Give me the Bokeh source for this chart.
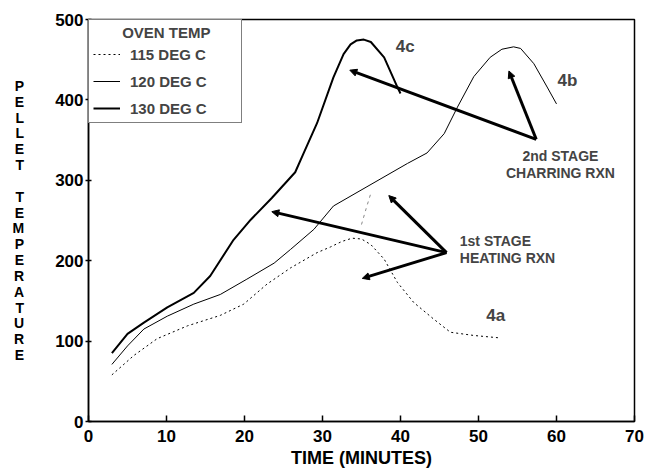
from bokeh.plotting import figure
from bokeh.models import Range1d, Legend, LegendItem, Label, Arrow, NormalHead, FixedTicker
from bokeh.embed import file_html
from bokeh.resources import INLINE

# ---- data ----
t115 = [3, 5.8, 8.8, 12.7, 16.9, 19.9, 22.9, 25.9, 29.3, 31, 32.5, 33.8, 35.0, 36.2, 37.9, 39.6, 41.7, 44.3, 46.4, 49.4, 52.7]
T115 = [58, 82, 103, 119, 132, 146, 171, 191, 210, 217, 224, 228, 227, 220, 202, 173, 148, 127, 111, 107, 104]

t115_frag = [35.0, 35.6, 36.2]
T115_frag = [245, 265, 284]

t120 = [3, 5, 7.1, 10.1, 13.5, 16.9, 20.3, 23.8, 25.9, 28.9, 31.4, 35.7, 40.9, 43.4, 45.6, 47.3, 49.4, 51.5, 53.0, 54.5, 55.4, 57.1, 58.8, 60]
T120 = [71, 94, 115, 131, 146, 158, 177, 197, 214, 239, 268, 292, 321, 334, 358, 391, 429, 453, 463, 466, 464, 445, 416, 395]

t130 = [3, 5, 7.1, 10.1, 13.5, 15.6, 18.6, 20.8, 23.5, 26.5, 27.5, 29.3, 31.4, 32.7, 33.6, 34.4, 35.3, 36.2, 37.9, 39.6, 40]
T130 = [85, 109, 123, 142, 160, 181, 226, 251, 278, 310, 332, 371, 428, 457, 469, 474, 475, 472, 453, 416, 408]

x_ticks = [0, 10, 20, 30, 40, 50, 60, 70]
y_ticks = [0, 100, 200, 300, 400, 500]

y_title_words = ["PELLET", "TEMPERATURE"]

# arrows: (tail x, tail y, head x, head y)
arrow_x0 = [57.4, 57.4, 45.9, 45.9, 45.9]
arrow_y0 = [351, 351, 210, 210, 210]
arrow_x1 = [33.5, 53.9, 23.5, 38.5, 35.1]
arrow_y1 = [437, 436, 261, 281, 178]

FONT = "Liberation Sans"

p = figure(width=645, height=470, output_backend="svg", toolbar_location=None,
           x_range=Range1d(0, 70), y_range=Range1d(0, 500),
           min_border_left=88, min_border_right=11, min_border_top=19, min_border_bottom=47)
p.grid.visible = False
p.outline_line_color = "black"
p.outline_line_width = 1.5
p.background_fill_color = "white"
p.border_fill_color = "white"

for ax in (p.xaxis[0], p.yaxis[0]):
    ax.axis_line_color = "black"
    ax.axis_line_width = 1.5
    ax.major_tick_line_color = "black"
    ax.major_tick_line_width = 1.5
    ax.minor_tick_line_color = None
    ax.major_label_text_font = FONT
    ax.major_label_text_font_style = "bold"
    ax.major_label_text_font_size = "17px"
    ax.major_label_text_color = "black"

p.xaxis.ticker = FixedTicker(ticks=x_ticks)
p.yaxis.ticker = FixedTicker(ticks=y_ticks)
p.xaxis.major_tick_in = 6
p.xaxis.major_tick_out = 0
p.xaxis.major_label_standoff = 8
p.yaxis.major_tick_in = 3
p.yaxis.major_tick_out = 3
p.yaxis.major_label_standoff = 2

p.xaxis.axis_label = "TIME (MINUTES)"
p.xaxis.axis_label_text_font = FONT
p.xaxis.axis_label_text_font_style = "bold"
p.xaxis.axis_label_text_font_size = "18px"
p.xaxis.axis_label_text_color = "black"
p.xaxis.axis_label_standoff = 3

# stacked vertical y-axis title
p.yaxis.axis_label = "\n\n".join("\n".join(w) for w in y_title_words)
p.yaxis.axis_label_orientation = "horizontal"
p.yaxis.axis_label_text_font = FONT
p.yaxis.axis_label_text_font_style = "bold"
p.yaxis.axis_label_text_font_size = "14px"
p.yaxis.axis_label_text_line_height = 0.99
p.yaxis.axis_label_text_color = "black"
p.yaxis.axis_label_text_align = "center"
p.yaxis.axis_label_standoff = 28

r115 = p.line(t115, T115, line_color="black", line_width=1, line_dash="2 3")
p.line(t115_frag, T115_frag, line_color="#888888", line_width=1, line_dash="3 4")
r120 = p.line(t120, T120, line_color="black", line_width=1)
r130 = p.line(t130, T130, line_color="black", line_width=2)

for xs, ys, xe, ye in zip(arrow_x0, arrow_y0, arrow_x1, arrow_y1):
    p.add_layout(Arrow(end=NormalHead(size=7, fill_color="black", line_color="black"),
                       x_start=xs, y_start=ys, x_end=xe, y_end=ye,
                       line_color="black", line_width=3))

def txt(x, y, s, align="center", size="14px"):
    p.add_layout(Label(x=x, y=y, text=s, text_font=FONT, text_font_style="bold",
                       text_font_size=size, text_align=align, text_baseline="middle"))

txt(40.6, 466, "4c", size="17px")
txt(61.4, 424, "4b", size="17px")
txt(52.2, 132, "4a", size="17px")
txt(60.5, 330, "2nd STAGE")
txt(60.5, 309, "CHARRING RXN")
txt(47.6, 224, "1st STAGE", align="left")
txt(47.6, 203, "HEATING RXN", align="left")

legend = Legend(items=[LegendItem(label="115 DEG C", renderers=[r115]),
                       LegendItem(label="120 DEG C", renderers=[r120]),
                       LegendItem(label="130 DEG C", renderers=[r130])],
                location="top_left", title="\u00a0" * 7 + "OVEN TEMP")
legend.margin = 0
legend.padding = 4
legend.spacing = 7
legend.glyph_width = 27
legend.label_standoff = 10
legend.label_width = 107
legend.border_line_color = "black"
legend.border_line_width = 1.5
legend.background_fill_alpha = 1
legend.title_text_font = FONT
legend.title_text_font_style = "bold"
legend.title_text_font_size = "15px"
legend.title_standoff = 3
legend.label_text_font = FONT
legend.label_text_font_style = "bold"
legend.label_text_font_size = "15px"
p.add_layout(legend)

open("out.html", "w").write(file_html(p, INLINE))
